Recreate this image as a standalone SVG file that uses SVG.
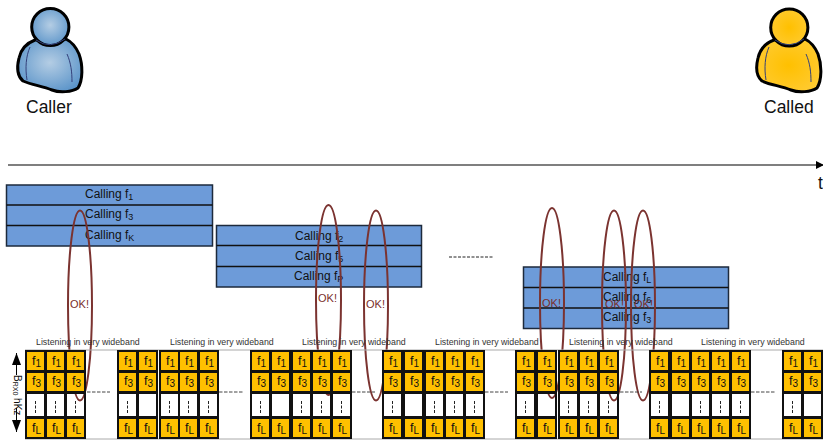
<svg xmlns="http://www.w3.org/2000/svg" width="823" height="441" viewBox="0 0 823 441">
<style>
text{font-family:"Liberation Sans",Arial,sans-serif;fill:#111}
.big{font-size:17.5px}
.bar{fill:#6d9bd9;stroke:#1d2a3c;stroke-width:1.5}
.cl{font-size:12px}
.s{font-size:9px}
.ok{font-size:11px;fill:#7a2e2a}
.loop{fill:none;stroke:#7b3330;stroke-width:2}
.o{fill:#ffc000;stroke:#111;stroke-width:2}
.w{fill:none;stroke:#111;stroke-width:2}
.d{stroke:#222;stroke-width:1;stroke-dasharray:3 1.5;fill:none}
.gd{stroke:#444;stroke-width:1;stroke-dasharray:3.500 1.500;fill:none}
.f{font-size:12.5px}
.f .s{font-size:10px}
.li{font-size:8.800px;fill:#333}
.edge{stroke:#aaa;stroke-width:1;fill:none}
.body{stroke:#000;stroke-width:3;stroke-linejoin:round}
.in{fill:none;stroke:#33407a;stroke-width:1}
</style>
<defs>
<radialGradient id="gb" cx="50%" cy="45%" r="60%"><stop offset="0" stop-color="#b4cde4"/><stop offset="1" stop-color="#5b94c9"/></radialGradient>
<radialGradient id="gy" cx="50%" cy="50%" r="60%"><stop offset="0" stop-color="#ffc000"/><stop offset="1" stop-color="#ffcb33"/></radialGradient>
<marker id="ah" markerUnits="userSpaceOnUse" markerWidth="8" markerHeight="8" refX="7" refY="4" orient="auto"><path d="M0 0L8 4L0 8Z" fill="#000"/></marker>
<marker id="ar" markerUnits="userSpaceOnUse" markerWidth="13" markerHeight="9" refX="12" refY="4.500" orient="auto"><path d="M0 0L12 4.500L0 9Z" fill="#000"/></marker>
<path id="torso" d="M35 40C27 43 21 49 19 58C17 66 16 75 23 81C32 85 42 86 52 90C60 93 72 92 78 88C83 80 83 65 79 54C76 47 72 42 66 39Z"/>
</defs>
<rect width="823" height="441" fill="#fff"/>
<g id="caller">
<use href="#torso" class="body" fill="url(#gb)"/>
<path class="in" d="M30 47C26 56 25 68 27 80M67 54C71 63 72 72 72 82"/>
<circle cx="50.3" cy="27" r="18.6" fill="url(#gb)" stroke="#000" stroke-width="3"/>
<path class="in" d="M36 40Q50 50 65 39"/>
<text class="big" x="26" y="113">Caller</text>
</g>
<g id="called">
<use href="#torso" class="body" fill="url(#gy)" transform="translate(739 0)"/>
<path class="in" d="M769 47C765 56 764 68 766 80M806 54C810 63 811 72 811 82"/>
<circle cx="789.3" cy="27.5" r="18.6" fill="url(#gy)" stroke="#000" stroke-width="3"/>
<path class="in" d="M775 40Q789 50 804 39"/>
<text class="big" x="764" y="113">Called</text>
</g>
<g id="calling-1">
<rect class="bar" x="6.5" y="185" width="206" height="61"/>
<path d="M6.5 205H212.5M6.5 225.500H212.500" stroke="#111" stroke-width="1.300"/>
<text class="cl" x="85" y="198">Calling f<tspan class="s" dy="2">1</tspan></text>
<text class="cl" x="85" y="218">Calling f<tspan class="s" dy="2">3</tspan></text>
<text class="cl" x="85" y="239">Calling f<tspan class="s" dy="2">K</tspan></text>
</g>
<g id="calling-2">
<rect class="bar" x="216.500" y="225.500" width="205" height="61.500"/>
<path d="M216.500 245.500H421.500M216.500 266.500H421.500" stroke="#111" stroke-width="1.300"/>
<text class="cl" x="295" y="240">Calling f<tspan class="s" dy="2">2</tspan></text>
<text class="cl" x="295" y="260">Calling f<tspan class="s" dy="2">5</tspan></text>
<text class="cl" x="294" y="280">Calling f<tspan class="s" dy="2">P</tspan></text>
</g>
<g id="calling-3">
<rect class="bar" x="523.500" y="267" width="205" height="61.500"/>
<path d="M523.500 287.500H728.500M523.500 308H728.500" stroke="#111" stroke-width="1.300"/>
<text class="cl" x="603" y="281">Calling f<tspan class="s" dy="2">L</tspan></text>
<text class="cl" x="603" y="301">Calling f<tspan class="s" dy="2">6</tspan></text>
<text class="cl" x="603" y="321">Calling f<tspan class="s" dy="2">3</tspan></text>
</g>
<g id="connectors">
<path d="M8 165H823" stroke="#000" stroke-width="1.200" marker-end="url(#ah)"/>
<path d="M449 257H494" class="d"/>
<path d="M16.500 375V353" stroke="#000" stroke-width="1" marker-end="url(#ar)"/>
<path d="M16.500 408V432" stroke="#000" stroke-width="1" marker-end="url(#ar)"/>
<ellipse class="loop" cx="80" cy="305.500" rx="12" ry="95"/>
<ellipse class="loop" cx="328.500" cy="300" rx="12.500" ry="95"/>
<ellipse class="loop" cx="376" cy="305.500" rx="12" ry="95"/>
<ellipse class="loop" cx="552" cy="303" rx="12" ry="95"/>
<ellipse class="loop" cx="614" cy="305.500" rx="12" ry="95"/>
<ellipse class="loop" cx="643" cy="305.500" rx="12" ry="95"/>
<path class="edge" d="M25 350H823M25 439H823"/>
<path class="gd" d="M87 392H110M219 392H243M352 392H375M485 392H508M620 392H642M751 392H775"/>
</g>
<g id="ok-labels">
<text class="ok" x="70" y="308">OK!</text>
<text class="ok" x="318" y="302">OK!</text>
<text class="ok" x="366" y="308">OK!</text>
<text class="ok" x="542" y="307">OK!</text>
<text class="ok" x="605" y="308">OK!</text>
<text class="ok" x="634" y="308">OK!</text>
</g>
<g id="listening">
<text class="li" x="36" y="345">Listening in very wideband</text>
<text class="li" x="170" y="345">Listening in very wideband</text>
<text class="li" x="302" y="345">Listening in very wideband</text>
<text class="li" x="435" y="345">Listening in very wideband</text>
<text class="li" x="569" y="345">Listening in very wideband</text>
<text class="li" x="701" y="345">Listening in very wideband</text>
</g>
<g id="bandwidth-label"><text font-size="10" transform="translate(13.500 375) rotate(90)">B<tspan font-size="7" dy="1">RX0</tspan><tspan dy="-1"> hKz</tspan></text></g>
<g id="col-1" transform="translate(26 0)"><rect class="o" width="19" height="20" y="351"/><rect class="o" width="19" height="20" y="372"/><rect class="w" width="19" height="24" y="393"/><rect class="o" width="19" height="20" y="418"/><path class="d" d="M9.500 401V413"/><text class="f" x="6" y="365">f<tspan class="s" dy="2">1</tspan></text><text class="f" x="6" y="385">f<tspan class="s" dy="2">3</tspan></text><text class="f" x="6" y="432">f<tspan class="s" dy="2">L</tspan></text></g>
<g id="col-2" transform="translate(46 0)"><rect class="o" width="19" height="20" y="351"/><rect class="o" width="19" height="20" y="372"/><rect class="w" width="19" height="24" y="393"/><rect class="o" width="19" height="20" y="418"/><path class="d" d="M9.500 401V413"/><text class="f" x="6" y="365">f<tspan class="s" dy="2">1</tspan></text><text class="f" x="6" y="385">f<tspan class="s" dy="2">3</tspan></text><text class="f" x="6" y="432">f<tspan class="s" dy="2">L</tspan></text></g>
<g id="col-3" transform="translate(66 0)"><rect class="o" width="19" height="20" y="351"/><rect class="o" width="19" height="20" y="372"/><rect class="w" width="19" height="24" y="393"/><rect class="o" width="19" height="20" y="418"/><path class="d" d="M9.500 401V413"/><text class="f" x="6" y="365">f<tspan class="s" dy="2">1</tspan></text><text class="f" x="6" y="385">f<tspan class="s" dy="2">3</tspan></text><text class="f" x="6" y="432">f<tspan class="s" dy="2">L</tspan></text></g>
<g id="col-4" transform="translate(118 0)"><rect class="o" width="19" height="20" y="351"/><rect class="o" width="19" height="20" y="372"/><rect class="w" width="19" height="24" y="393"/><rect class="o" width="19" height="20" y="418"/><path class="d" d="M9.500 401V413"/><text class="f" x="6" y="365">f<tspan class="s" dy="2">1</tspan></text><text class="f" x="6" y="385">f<tspan class="s" dy="2">3</tspan></text><text class="f" x="6" y="432">f<tspan class="s" dy="2">L</tspan></text></g>
<g id="col-5" transform="translate(138 0)"><rect class="o" width="19" height="20" y="351"/><rect class="o" width="19" height="20" y="372"/><rect class="w" width="19" height="24" y="393"/><rect class="o" width="19" height="20" y="418"/><text class="f" x="6" y="365">f<tspan class="s" dy="2">1</tspan></text><text class="f" x="6" y="385">f<tspan class="s" dy="2">3</tspan></text><text class="f" x="6" y="432">f<tspan class="s" dy="2">L</tspan></text></g>
<g id="col-6" transform="translate(160 0)"><rect class="o" width="19" height="20" y="351"/><rect class="o" width="19" height="20" y="372"/><rect class="w" width="19" height="24" y="393"/><rect class="o" width="19" height="20" y="418"/><path class="d" d="M9.500 401V413"/><text class="f" x="6" y="365">f<tspan class="s" dy="2">1</tspan></text><text class="f" x="6" y="385">f<tspan class="s" dy="2">3</tspan></text><text class="f" x="6" y="432">f<tspan class="s" dy="2">L</tspan></text></g>
<g id="col-7" transform="translate(179 0)"><rect class="o" width="19" height="20" y="351"/><rect class="o" width="19" height="20" y="372"/><rect class="w" width="19" height="24" y="393"/><rect class="o" width="19" height="20" y="418"/><path class="d" d="M9.500 401V413"/><text class="f" x="6" y="365">f<tspan class="s" dy="2">1</tspan></text><text class="f" x="6" y="385">f<tspan class="s" dy="2">3</tspan></text><text class="f" x="6" y="432">f<tspan class="s" dy="2">L</tspan></text></g>
<g id="col-8" transform="translate(199 0)"><rect class="o" width="19" height="20" y="351"/><rect class="o" width="19" height="20" y="372"/><rect class="w" width="19" height="24" y="393"/><rect class="o" width="19" height="20" y="418"/><path class="d" d="M9.500 401V413"/><text class="f" x="6" y="365">f<tspan class="s" dy="2">1</tspan></text><text class="f" x="6" y="385">f<tspan class="s" dy="2">3</tspan></text><text class="f" x="6" y="432">f<tspan class="s" dy="2">L</tspan></text></g>
<g id="col-9" transform="translate(251 0)"><rect class="o" width="19" height="20" y="351"/><rect class="o" width="19" height="20" y="372"/><rect class="w" width="19" height="24" y="393"/><rect class="o" width="19" height="20" y="418"/><path class="d" d="M9.500 401V413"/><text class="f" x="6" y="365">f<tspan class="s" dy="2">1</tspan></text><text class="f" x="6" y="385">f<tspan class="s" dy="2">3</tspan></text><text class="f" x="6" y="432">f<tspan class="s" dy="2">L</tspan></text></g>
<g id="col-10" transform="translate(271 0)"><rect class="o" width="19" height="20" y="351"/><rect class="o" width="19" height="20" y="372"/><rect class="w" width="19" height="24" y="393"/><rect class="o" width="19" height="20" y="418"/><text class="f" x="6" y="365">f<tspan class="s" dy="2">1</tspan></text><text class="f" x="6" y="385">f<tspan class="s" dy="2">3</tspan></text><text class="f" x="6" y="432">f<tspan class="s" dy="2">L</tspan></text></g>
<g id="col-11" transform="translate(292 0)"><rect class="o" width="19" height="20" y="351"/><rect class="o" width="19" height="20" y="372"/><rect class="w" width="19" height="24" y="393"/><rect class="o" width="19" height="20" y="418"/><path class="d" d="M9.500 401V413"/><text class="f" x="6" y="365">f<tspan class="s" dy="2">1</tspan></text><text class="f" x="6" y="385">f<tspan class="s" dy="2">3</tspan></text><text class="f" x="6" y="432">f<tspan class="s" dy="2">L</tspan></text></g>
<g id="col-12" transform="translate(312 0)"><rect class="o" width="19" height="20" y="351"/><rect class="o" width="19" height="20" y="372"/><rect class="w" width="19" height="24" y="393"/><rect class="o" width="19" height="20" y="418"/><path class="d" d="M9.500 401V413"/><text class="f" x="6" y="365">f<tspan class="s" dy="2">1</tspan></text><text class="f" x="6" y="385">f<tspan class="s" dy="2">3</tspan></text><text class="f" x="6" y="432">f<tspan class="s" dy="2">L</tspan></text></g>
<g id="col-13" transform="translate(332 0)"><rect class="o" width="19" height="20" y="351"/><rect class="o" width="19" height="20" y="372"/><rect class="w" width="19" height="24" y="393"/><rect class="o" width="19" height="20" y="418"/><path class="d" d="M9.500 401V413"/><text class="f" x="6" y="365">f<tspan class="s" dy="2">1</tspan></text><text class="f" x="6" y="385">f<tspan class="s" dy="2">3</tspan></text><text class="f" x="6" y="432">f<tspan class="s" dy="2">L</tspan></text></g>
<g id="col-14" transform="translate(383 0)"><rect class="o" width="19" height="20" y="351"/><rect class="o" width="19" height="20" y="372"/><rect class="w" width="19" height="24" y="393"/><rect class="o" width="19" height="20" y="418"/><path class="d" d="M9.500 401V413"/><text class="f" x="6" y="365">f<tspan class="s" dy="2">1</tspan></text><text class="f" x="6" y="385">f<tspan class="s" dy="2">3</tspan></text><text class="f" x="6" y="432">f<tspan class="s" dy="2">L</tspan></text></g>
<g id="col-15" transform="translate(404 0)"><rect class="o" width="19" height="20" y="351"/><rect class="o" width="19" height="20" y="372"/><rect class="w" width="19" height="24" y="393"/><rect class="o" width="19" height="20" y="418"/><text class="f" x="6" y="365">f<tspan class="s" dy="2">1</tspan></text><text class="f" x="6" y="385">f<tspan class="s" dy="2">3</tspan></text><text class="f" x="6" y="432">f<tspan class="s" dy="2">L</tspan></text></g>
<g id="col-16" transform="translate(425 0)"><rect class="o" width="19" height="20" y="351"/><rect class="o" width="19" height="20" y="372"/><rect class="w" width="19" height="24" y="393"/><rect class="o" width="19" height="20" y="418"/><path class="d" d="M9.500 401V413"/><text class="f" x="6" y="365">f<tspan class="s" dy="2">1</tspan></text><text class="f" x="6" y="385">f<tspan class="s" dy="2">3</tspan></text><text class="f" x="6" y="432">f<tspan class="s" dy="2">L</tspan></text></g>
<g id="col-17" transform="translate(445 0)"><rect class="o" width="19" height="20" y="351"/><rect class="o" width="19" height="20" y="372"/><rect class="w" width="19" height="24" y="393"/><rect class="o" width="19" height="20" y="418"/><path class="d" d="M9.500 401V413"/><text class="f" x="6" y="365">f<tspan class="s" dy="2">1</tspan></text><text class="f" x="6" y="385">f<tspan class="s" dy="2">3</tspan></text><text class="f" x="6" y="432">f<tspan class="s" dy="2">L</tspan></text></g>
<g id="col-18" transform="translate(465 0)"><rect class="o" width="19" height="20" y="351"/><rect class="o" width="19" height="20" y="372"/><rect class="w" width="19" height="24" y="393"/><rect class="o" width="19" height="20" y="418"/><path class="d" d="M9.500 401V413"/><text class="f" x="6" y="365">f<tspan class="s" dy="2">1</tspan></text><text class="f" x="6" y="385">f<tspan class="s" dy="2">3</tspan></text><text class="f" x="6" y="432">f<tspan class="s" dy="2">L</tspan></text></g>
<g id="col-19" transform="translate(516 0)"><rect class="o" width="19" height="20" y="351"/><rect class="o" width="19" height="20" y="372"/><rect class="w" width="19" height="24" y="393"/><rect class="o" width="19" height="20" y="418"/><path class="d" d="M9.500 401V413"/><text class="f" x="6" y="365">f<tspan class="s" dy="2">1</tspan></text><text class="f" x="6" y="385">f<tspan class="s" dy="2">3</tspan></text><text class="f" x="6" y="432">f<tspan class="s" dy="2">L</tspan></text></g>
<g id="col-20" transform="translate(537 0)"><rect class="o" width="19" height="20" y="351"/><rect class="o" width="19" height="20" y="372"/><rect class="w" width="19" height="24" y="393"/><rect class="o" width="19" height="20" y="418"/><text class="f" x="6" y="365">f<tspan class="s" dy="2">1</tspan></text><text class="f" x="6" y="385">f<tspan class="s" dy="2">3</tspan></text><text class="f" x="6" y="432">f<tspan class="s" dy="2">L</tspan></text></g>
<g id="col-21" transform="translate(559 0)"><rect class="o" width="19" height="20" y="351"/><rect class="o" width="19" height="20" y="372"/><rect class="w" width="19" height="24" y="393"/><rect class="o" width="19" height="20" y="418"/><path class="d" d="M9.500 401V413"/><text class="f" x="6" y="365">f<tspan class="s" dy="2">1</tspan></text><text class="f" x="6" y="385">f<tspan class="s" dy="2">3</tspan></text><text class="f" x="6" y="432">f<tspan class="s" dy="2">L</tspan></text></g>
<g id="col-22" transform="translate(579 0)"><rect class="o" width="19" height="20" y="351"/><rect class="o" width="19" height="20" y="372"/><rect class="w" width="19" height="24" y="393"/><rect class="o" width="19" height="20" y="418"/><path class="d" d="M9.500 401V413"/><text class="f" x="6" y="365">f<tspan class="s" dy="2">1</tspan></text><text class="f" x="6" y="385">f<tspan class="s" dy="2">3</tspan></text><text class="f" x="6" y="432">f<tspan class="s" dy="2">L</tspan></text></g>
<g id="col-23" transform="translate(599 0)"><rect class="o" width="19" height="20" y="351"/><rect class="o" width="19" height="20" y="372"/><rect class="w" width="19" height="24" y="393"/><rect class="o" width="19" height="20" y="418"/><path class="d" d="M9.500 401V413"/><text class="f" x="6" y="365">f<tspan class="s" dy="2">1</tspan></text><text class="f" x="6" y="385">f<tspan class="s" dy="2">3</tspan></text><text class="f" x="6" y="432">f<tspan class="s" dy="2">L</tspan></text></g>
<g id="col-24" transform="translate(650 0)"><rect class="o" width="19" height="20" y="351"/><rect class="o" width="19" height="20" y="372"/><rect class="w" width="19" height="24" y="393"/><rect class="o" width="19" height="20" y="418"/><path class="d" d="M9.500 401V413"/><text class="f" x="6" y="365">f<tspan class="s" dy="2">1</tspan></text><text class="f" x="6" y="385">f<tspan class="s" dy="2">3</tspan></text><text class="f" x="6" y="432">f<tspan class="s" dy="2">L</tspan></text></g>
<g id="col-25" transform="translate(671 0)"><rect class="o" width="19" height="20" y="351"/><rect class="o" width="19" height="20" y="372"/><rect class="w" width="19" height="24" y="393"/><rect class="o" width="19" height="20" y="418"/><text class="f" x="6" y="365">f<tspan class="s" dy="2">1</tspan></text><text class="f" x="6" y="385">f<tspan class="s" dy="2">3</tspan></text><text class="f" x="6" y="432">f<tspan class="s" dy="2">L</tspan></text></g>
<g id="col-26" transform="translate(691 0)"><rect class="o" width="19" height="20" y="351"/><rect class="o" width="19" height="20" y="372"/><rect class="w" width="19" height="24" y="393"/><rect class="o" width="19" height="20" y="418"/><path class="d" d="M9.500 401V413"/><text class="f" x="6" y="365">f<tspan class="s" dy="2">1</tspan></text><text class="f" x="6" y="385">f<tspan class="s" dy="2">3</tspan></text><text class="f" x="6" y="432">f<tspan class="s" dy="2">L</tspan></text></g>
<g id="col-27" transform="translate(711 0)"><rect class="o" width="19" height="20" y="351"/><rect class="o" width="19" height="20" y="372"/><rect class="w" width="19" height="24" y="393"/><rect class="o" width="19" height="20" y="418"/><path class="d" d="M9.500 401V413"/><text class="f" x="6" y="365">f<tspan class="s" dy="2">1</tspan></text><text class="f" x="6" y="385">f<tspan class="s" dy="2">3</tspan></text><text class="f" x="6" y="432">f<tspan class="s" dy="2">L</tspan></text></g>
<g id="col-28" transform="translate(731 0)"><rect class="o" width="19" height="20" y="351"/><rect class="o" width="19" height="20" y="372"/><rect class="w" width="19" height="24" y="393"/><rect class="o" width="19" height="20" y="418"/><path class="d" d="M9.500 401V413"/><text class="f" x="6" y="365">f<tspan class="s" dy="2">1</tspan></text><text class="f" x="6" y="385">f<tspan class="s" dy="2">3</tspan></text><text class="f" x="6" y="432">f<tspan class="s" dy="2">L</tspan></text></g>
<g id="col-29" transform="translate(783 0)"><rect class="o" width="19" height="20" y="351"/><rect class="o" width="19" height="20" y="372"/><rect class="w" width="19" height="24" y="393"/><rect class="o" width="19" height="20" y="418"/><path class="d" d="M9.500 401V413"/><text class="f" x="6" y="365">f<tspan class="s" dy="2">1</tspan></text><text class="f" x="6" y="385">f<tspan class="s" dy="2">3</tspan></text><text class="f" x="6" y="432">f<tspan class="s" dy="2">L</tspan></text></g>
<g id="col-30" transform="translate(803 0)"><rect class="o" width="19" height="20" y="351"/><rect class="o" width="19" height="20" y="372"/><rect class="w" width="19" height="24" y="393"/><rect class="o" width="19" height="20" y="418"/><text class="f" x="6" y="365">f<tspan class="s" dy="2">1</tspan></text><text class="f" x="6" y="385">f<tspan class="s" dy="2">3</tspan></text><text class="f" x="6" y="432">f<tspan class="s" dy="2">L</tspan></text></g>
<text class="big" x="818" y="189">t</text>
</svg>
